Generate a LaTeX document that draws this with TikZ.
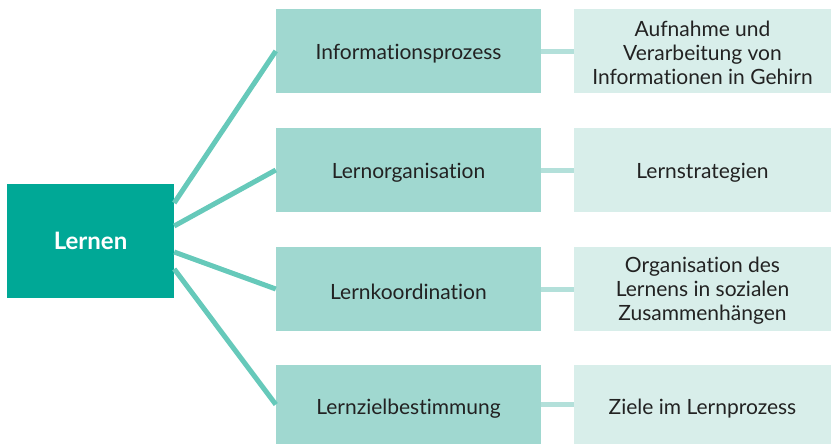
\documentclass[tikz,border=0pt]{standalone}
\usepackage{fontspec}
\setmainfont{Lato}[Ligatures=NoCommon]
\definecolor{dark}{HTML}{00A896}
\definecolor{mid}{HTML}{A0D8D0}
\definecolor{light}{HTML}{D8EEEA}
\definecolor{lineA}{HTML}{66C9BA}
\definecolor{lineB}{HTML}{B3E0DA}
\definecolor{txt}{HTML}{222222}
\begin{document}
\begin{tikzpicture}[x=1pt,y=-1pt,
  box/.style={inner sep=0pt},
  label/.style={inner sep=0pt, align=center, text=txt, font=\fontsize{21}{24}\selectfont},
  midbox/.style={box, fill=mid, minimum width=265pt, minimum height=84pt},
  rightbox/.style={box, fill=light, minimum width=257pt, minimum height=84pt},
  rootbox/.style={box, fill=dark, text=white, font=\fontsize{24}{26}\selectfont\bfseries, minimum width=167pt, minimum height=114pt},
  conA/.style={draw=lineA, line width=5pt},
  conB/.style={draw=lineB, line width=5pt}]
\useasboundingbox (0,0) rectangle (831,445);
\node[rootbox] (root) at (90.5,241) {Lernen};
\node[midbox] (m1) at (408.5,51) {};
\node[midbox] (m2) at (408.5,170) {};
\node[midbox] (m3) at (408.5,289) {};
\node[midbox, minimum height=79pt] (m4) at (408.5,404.5) {};
\node[rightbox] (r1) at (702.5,51) {};
\node[rightbox] (r2) at (702.5,170) {};
\node[rightbox] (r3) at (702.5,289) {};
\node[rightbox, minimum height=79pt] (r4) at (702.5,404.5) {};
\node[label] (m1t) at ([yshift=-3pt]m1.center) {Informationsprozess};
\node[label] (m2t) at ([yshift=-3pt]m2.center) {Lernorganisation};
\node[label] (m3t) at ([yshift=-3pt]m3.center) {Lernkoordination};
\node[label] (m4t) at ([yshift=-4pt]m4.center) {Lernzielbestimmung};
\node[label] (r1t) at ([yshift=-2pt]r1.center) {Aufnahme und\\Verarbeitung von\\Informationen in Gehirn};
\node[label] (r2t) at ([yshift=-3pt]r2.center) {Lernstrategien};
\node[label] (r3t) at ([yshift=-2pt]r3.center) {Organisation des\\Lernens in sozialen\\Zusammenhängen};
\node[label] (r4t) at ([yshift=-4pt]r4.center) {Ziele im Lernprozess};
\coordinate (s1) at ([yshift=38pt]root.east);
\coordinate (s2) at ([yshift=15pt]root.east);
\coordinate (s3) at ([yshift=-11pt]root.east);
\coordinate (s4) at ([yshift=-28pt]root.east);
\draw[conA] (s1) -- (m1.west);
\draw[conA] (s2) -- (m2.west);
\draw[conA] (s3) -- (m3.west);
\draw[conA] (s4) -- (m4.west);
\foreach \i in {1,2,3,4} \draw[conB] (m\i.east) -- (r\i.west);
\end{tikzpicture}
\end{document}
